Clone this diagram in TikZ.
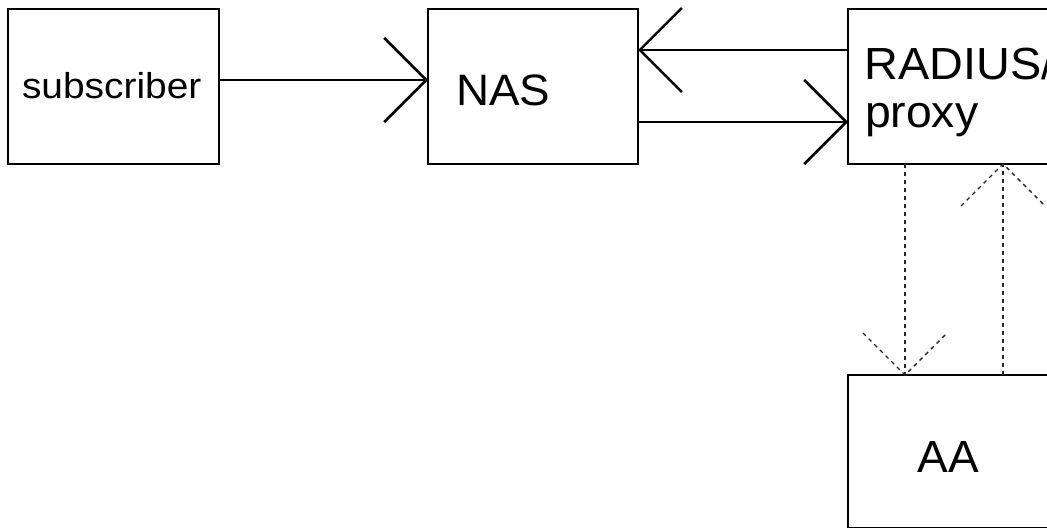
\documentclass[tikz,border=0pt]{standalone}
\usepackage{fontspec}
\setmainfont{Liberation Sans}
\usetikzlibrary{arrows.meta}
\begin{document}
\begin{tikzpicture}[x=1pt,y=-1pt,
  box/.style={draw=black, line width=1.5pt, rectangle, inner sep=0pt, outer sep=0pt},
  lbl/.style={anchor=base west, inner sep=0pt, outer sep=0pt, text=black},
  conn/.style={draw=black, line width=2.6pt, -{Straight Barb[length=42pt,width=84pt,line width=2.6pt]}},
  dsh/.style={draw=black!85, line width=1.4pt, dash pattern=on 4pt off 4pt}
]
\useasboundingbox (0,0) rectangle (1047,529);
\clip (0,0) rectangle (1047,529);
\fill[white] (0,0) rectangle (1047,529);

\node[box, minimum width=211pt, minimum height=155pt] (sub) at (113.5,86.5) {};
\node[box, minimum width=210pt, minimum height=155pt] (nas) at (533,86.5) {};
\node[box, minimum width=212pt, minimum height=155pt] (rad) at (954,86.5) {};
\node[box, minimum width=212pt, minimum height=152.5pt] (aa) at (954,451.25) {};

\node[lbl, font=\fontsize{36}{42}\selectfont, xscale=1.08] (subt) at (22,99) {subscriber};
\node[lbl, font=\fontsize{44}{52}\selectfont, xscale=1.04] (nast) at (456,106) {NAS};
\node[lbl, font=\fontsize{45}{54}\selectfont, xscale=1.04] (radt) at (864.5,80) {RADIUS/};
\node[lbl, font=\fontsize{45}{54}\selectfont, xscale=1.03] (proxt) at (865,128) {proxy};
\node[lbl, font=\fontsize{45}{54}\selectfont, xscale=1.02] (aat) at (917.5,472) {AA};

\coordinate (y1) at (0,80);
\coordinate (y2) at (0,50);
\coordinate (y3) at (0,122);
\coordinate (d1) at (905,0);
\coordinate (d2) at (1003,0);

\draw[conn] (sub.east |- y1) -- (nas.west |- y1);
\draw[conn] (rad.west |- y2) -- (nas.east |- y2);
\draw[conn] (nas.east |- y3) -- (rad.west |- y3);

\draw[dsh] (rad.south -| d1) -- (aa.north -| d1);
\draw[dsh] (aa.north -| d1) ++(-42,-42) -- (aa.north -| d1) -- ++(42,-42);
\draw[dsh] (aa.north -| d2) -- (rad.south -| d2);
\draw[dsh] (rad.south -| d2) ++(-42,42) -- (rad.south -| d2) -- ++(42,42);
\end{tikzpicture}
\end{document}
